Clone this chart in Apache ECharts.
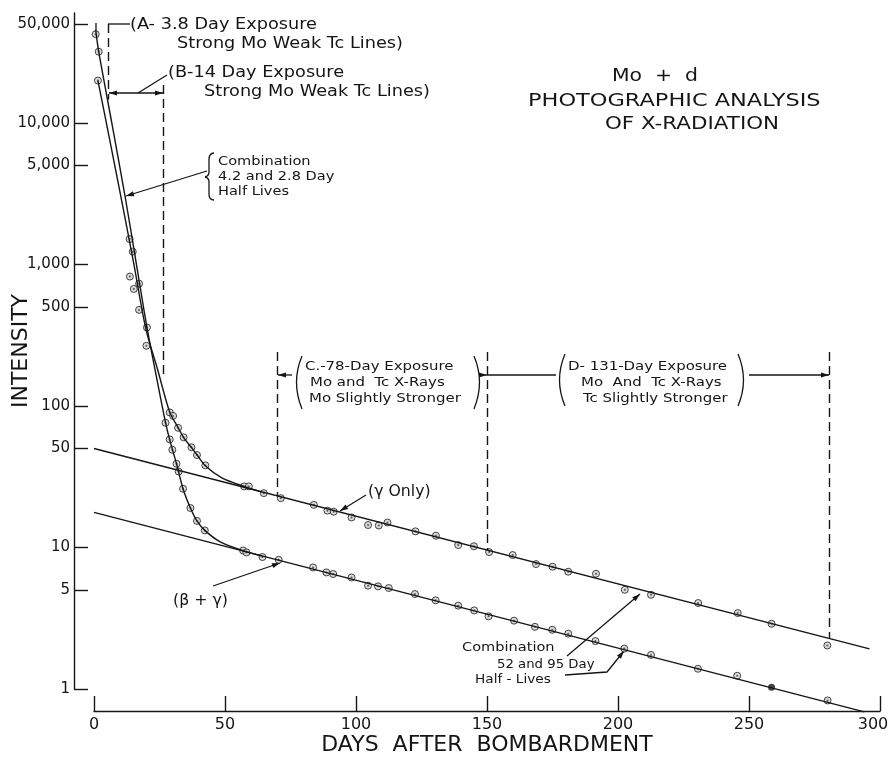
<!DOCTYPE html>
<html>
<head>
<meta charset="utf-8">
<title>Mo + d Photographic Analysis of X-Radiation</title>
<script src="https://cdn.jsdelivr.net/npm/echarts@6/dist/echarts.min.js"></script>
<style>
html, body { margin: 0; padding: 0; background: #fff; }
#chart { width: 888px; height: 763px; }
</style>
</head>
<body>
<div id="chart"></div>
<script>
// tick labels
var dayTicks = [0, 50, 100, 150, 200, 250, 300];
var intensityTicks = [1, 5, 10, 50, 100, 500, 1000, 5000, 10000, 50000];

// fitted straight lines [day, intensity]
var gammaLine = [[0, 50], [296, 1.92]];
var betaGammaLine = [[0, 17.7], [294, 0.69]];

// steep early curves (Combination 4.2 and 2.8 day half lives)
var gammaCurve = [[1.5, 19900], [6.0, 7570], [10.5, 2860], [15.2, 1010], [19.7, 356], [24.3, 180], [28.9, 90.4],
	[32.1, 70.3], [34.2, 59.8], [37.2, 50.8], [39.3, 45.2], [42.5, 37.8], [48.8, 31.0], [57.2, 27.0], [64, 24.7]];
var betaGammaCurve = [[0.65, 45600], [1.8, 31800], [6.95, 9640], [12.1, 2850], [16.1, 1025], [20.1, 368], [23.6, 169],
	[27.3, 76.3], [28.9, 57.6], [31.5, 39.0], [34.0, 25.9], [36.8, 19.0], [39.3, 15.4], [42.3, 13.2], [48.0, 11.0],
	[56.8, 9.5], [64, 8.7]];

// measured points
var steepPoints = [[0.65, 42300], [1.8, 31800], [1.5, 19900], [13.6, 1510], [14.8, 1230], [13.7, 820],
	[17.2, 730], [15.2, 670], [17.2, 477], [20.2, 358], [20.0, 266], [28.9, 90], [30.2, 85], [27.3, 76],
	[32.1, 70], [28.9, 58], [34.2, 60], [29.9, 49], [37.2, 51], [31.5, 39], [32.3, 34.4], [39.3, 45],
	[42.5, 38], [34.0, 26], [36.8, 19], [39.3, 15.4], [42.3, 13.2]];
var gammaPoints = [[57.3, 27.0], [59.1, 27.0], [64.8, 24.2], [71.3, 22.3], [83.9, 20.0], [89.1, 18.2],
	[91.5, 17.9], [98.3, 16.3], [104.6, 14.4], [108.7, 14.3], [112.0, 15.0], [122.7, 13.0], [130.5, 12.1],
	[139.0, 10.4], [145.0, 10.2], [150.8, 9.28], [159.8, 8.84], [168.7, 7.63], [175.0, 7.31], [181.0, 6.74],
	[191.6, 6.52], [202.6, 5.02], [212.6, 4.63], [230.6, 4.05], [245.7, 3.44], [258.6, 2.89], [279.9, 2.03]];
var betaGammaPoints = [[56.9, 9.52], [58.2, 9.22], [64.3, 8.56], [70.5, 8.18], [83.6, 7.22], [88.7, 6.66],
	[91.3, 6.49], [98.3, 6.14], [104.6, 5.37], [108.4, 5.31], [112.5, 5.17], [122.5, 4.69], [130.4, 4.23],
	[139.0, 3.88], [145.1, 3.59], [150.6, 3.26], [160.3, 3.04], [168.3, 2.75], [174.9, 2.62], [181.0, 2.46],
	[191.4, 2.18], [202.4, 1.93], [212.6, 1.74], [230.5, 1.39], [245.5, 1.24], [280.0, 0.83]];
var filledPoints = [[258.6, 1.03]];

// exposure limits: [day, top intensity, bottom intensity]
var exposureBounds = [[5.35, 49900, 14600], [26.4, 18500, 160], [70, 240, 23], [150, 240, 9.6], [280.5, 240, 2.28]];

var FONT = '"DejaVu Sans", sans-serif';
var INK = '#151515';

// intensity is plotted as log10 on a value axis
function lg(pairs) {
	return pairs.map(function(p) { return [p[0], Math.log10(p[1])]; });
}

// ---- annotation helpers (pixel layout) ----
function pen(w) {
	return {stroke: INK, lineWidth: w || 1.3, fill: 'none'};
}
function poly(pts) {
	return {type: 'polyline', silent: true, shape: {points: pts}, style: pen()};
}
function head(from, to) {
	var dx = to[0] - from[0], dy = to[1] - from[1];
	var len = Math.sqrt(dx * dx + dy * dy), ux = dx / len, uy = dy / len, L = 8, W = 2.6;
	return {type: 'polygon', silent: true, shape: {points: [to,
		[to[0] - ux * L - uy * W, to[1] - uy * L + ux * W],
		[to[0] - ux * L + uy * W, to[1] - uy * L - ux * W]]}, style: {fill: INK}};
}
function arrow(pts) {
	var n = pts.length;
	return [poly(pts), head(pts[n - 2], pts[n - 1])];
}
// quadratic bezier piece, used for brackets
function qb(x1, y1, cx, cy, x2, y2) {
	return {type: 'bezierCurve', silent: true,
		shape: {x1: x1, y1: y1, cpx1: cx, cpy1: cy, x2: x2, y2: y2}, style: pen(1.3)};
}
function txt(x, y, s, size, sx) {
	return {type: 'text', silent: true, x: x, y: y, scaleX: sx || 1,
		style: {text: s, font: size + 'px ' + FONT, fill: INK, textAlign: 'left', textVerticalAlign: 'middle'}};
}

var notes = [];
// A
notes.push(poly([[108, 24], [130, 24]]), poly([[96, 23], [96, 30]]));
notes.push(txt(130, 25, '(A- 3.8 Day Exposure', 15, 1.18));
notes.push(txt(177, 44, 'Strong Mo Weak Tc Lines)', 15, 1.18));
// B
notes.push(poly([[109, 93], [163, 93]]), head([120, 93], [109, 93]), head([150, 93], [163, 93]));
notes.push(poly([[138, 93], [167, 75]]));
notes.push(txt(168, 73, '(B-14 Day Exposure', 15, 1.18));
notes.push(txt(204, 92, 'Strong Mo Weak Tc Lines)', 15, 1.18));
// early combination, with brace
notes.push(qb(214, 153, 209, 153, 209, 160), poly([[209, 160], [209, 172]]), qb(209, 172, 209, 176, 205, 177),
	qb(205, 177, 209, 178, 209, 182), poly([[209, 182], [209, 194]]), qb(209, 194, 209, 200, 214, 200));
notes = notes.concat(arrow([[207, 171], [126, 196]]));
notes.push(txt(218, 162, 'Combination', 13, 1.12));
notes.push(txt(218, 177, '4.2 and 2.8 Day', 13, 1.12));
notes.push(txt(218, 192, 'Half Lives', 13, 1.12));
// C
notes = notes.concat(arrow([[292, 375], [278, 375]]));
notes.push(qb(302, 356, 291, 382, 302, 409), qb(474, 356, 485, 382, 474, 409));
notes = notes.concat(arrow([[479, 375], [487, 375]]));
notes.push(poly([[487, 375], [556, 375]]));
notes.push(txt(305, 367, 'C.-78-Day Exposure', 13, 1.15));
notes.push(txt(310, 383, 'Mo and  Tc X-Rays', 13, 1.15));
notes.push(txt(309, 399, 'Mo Slightly Stronger', 13, 1.15));
// D
notes.push(qb(565, 354, 554, 380, 565, 406), qb(738, 354, 749, 380, 738, 406));
notes = notes.concat(arrow([[749, 375], [829, 375]]));
notes.push(txt(568, 367, 'D- 131-Day Exposure', 13, 1.15));
notes.push(txt(581, 383, 'Mo  And  Tc X-Rays', 13, 1.15));
notes.push(txt(583, 399, 'Tc Slightly Stronger', 13, 1.15));
// line labels
notes = notes.concat(arrow([[366, 495], [340, 511]]));
notes.push(txt(368, 492, '(γ Only)', 15, 1.05));
notes = notes.concat(arrow([[213, 586], [280, 563]]));
notes.push(txt(173, 601, '(β + γ)', 15, 1.05));
// late combination
notes = notes.concat(arrow([[567, 656], [640, 594]]));
notes = notes.concat(arrow([[565, 675], [607, 672], [624, 651]]));
notes.push(txt(462, 648, 'Combination', 13, 1.12));
notes.push(txt(497, 665, '52 and 95 Day', 13, 1.02));
notes.push(txt(475, 680, 'Half - Lives', 13, 1.05));
// title
notes.push(txt(612, 77, 'Mo  +  d', 17, 1.2));
notes.push(txt(528, 102, 'PHOTOGRAPHIC ANALYSIS', 17, 1.32));
notes.push(txt(605, 125, 'OF X-RADIATION', 17, 1.26));

var chart = echarts.init(document.getElementById('chart'));

var lineStyle = {color: INK, width: 1.4};
var pointStyle = {color: '#d2d2d2', borderColor: '#1a1a1a', borderWidth: 1};
var curveOpts = {type: 'line', smooth: 0.3, symbol: 'none', clip: false, silent: true, lineStyle: lineStyle};

chart.setOption({
	animation: false,
	backgroundColor: '#fff',
	grid: {left: 94, right: 8, top: 13, bottom: 74, containLabel: false, outerBoundsMode: 'none'},
	xAxis: {
		type: 'value',
		min: 0,
		max: 300,
		offset: 22,
		axisLine: {onZero: false, lineStyle: {color: INK, width: 1.4}},
		axisTick: {inside: true, length: 15, customValues: dayTicks, lineStyle: {color: INK, width: 1.4}},
		axisLabel: {
			customValues: dayTicks,
			color: INK,
			fontFamily: FONT,
			fontSize: 16,
			margin: 6,
			formatter: function(v) {
				return v === 300 ? '{r|300}' : String(v);
			},
			rich: {r: {padding: [0, 14, 0, 0], fontFamily: FONT, fontSize: 16, color: INK}}
		},
		splitLine: {show: false},
		name: 'DAYS  AFTER  BOMBARDMENT',
		nameLocation: 'middle',
		nameGap: 23,
		nameMoveOverlap: false,
		nameTextStyle: {fontFamily: FONT, fontSize: 22, color: INK}
	},
	yAxis: {
		type: 'value',
		min: 0,
		max: 4.776,
		offset: 20,
		axisLine: {show: true, onZero: false, lineStyle: {color: INK, width: 1.4}},
		axisTick: {show: true, inside: true, length: 14, customValues: intensityTicks.map(Math.log10),
			lineStyle: {color: INK, width: 1.4}},
		axisLabel: {
			customValues: intensityTicks.map(Math.log10),
			color: INK,
			fontFamily: FONT,
			fontSize: 15,
			margin: 4,
			formatter: function(v) {
				return Math.round(Math.pow(10, v)).toLocaleString('en-US');
			}
		},
		splitLine: {show: false},
		name: 'INTENSITY',
		nameLocation: 'middle',
		nameRotate: 90,
		nameGap: 42,
		nameMoveOverlap: false,
		nameTextStyle: {fontFamily: FONT, fontSize: 22, color: INK}
	},
	series: [{
		type: 'line',
		name: 'γ only',
		data: lg(gammaLine),
		symbol: 'none',
		clip: false,
		silent: true,
		lineStyle: lineStyle,
		markLine: {
			silent: true,
			symbol: ['none', 'none'],
			label: {show: false},
			lineStyle: {color: INK, width: 1.4, type: [9, 5]},
			data: exposureBounds.map(function(b) {
				return [{coord: [b[0], Math.log10(b[1])]}, {coord: [b[0], Math.log10(b[2])]}];
			})
		}
	}, {
		type: 'line',
		name: 'β + γ',
		data: lg(betaGammaLine),
		symbol: 'none',
		clip: false,
		silent: true,
		lineStyle: lineStyle
	},
	echarts.util.extend({data: lg(gammaCurve)}, curveOpts),
	echarts.util.extend({data: lg(betaGammaCurve)}, curveOpts),
	{
		type: 'scatter',
		data: lg(steepPoints.concat(gammaPoints, betaGammaPoints)),
		symbolSize: 7,
		clip: false,
		silent: true,
		itemStyle: pointStyle
	}, {
		// centre dots of the open circles
		type: 'scatter',
		data: lg(steepPoints.concat(gammaPoints, betaGammaPoints)),
		symbolSize: 2,
		clip: false,
		silent: true,
		itemStyle: {color: '#333'}
	}, {
		type: 'scatter',
		data: lg(filledPoints),
		symbolSize: 7,
		clip: false,
		silent: true,
		itemStyle: {color: INK}
	}],
	graphic: {elements: notes}
});
</script>
</body>
</html>
